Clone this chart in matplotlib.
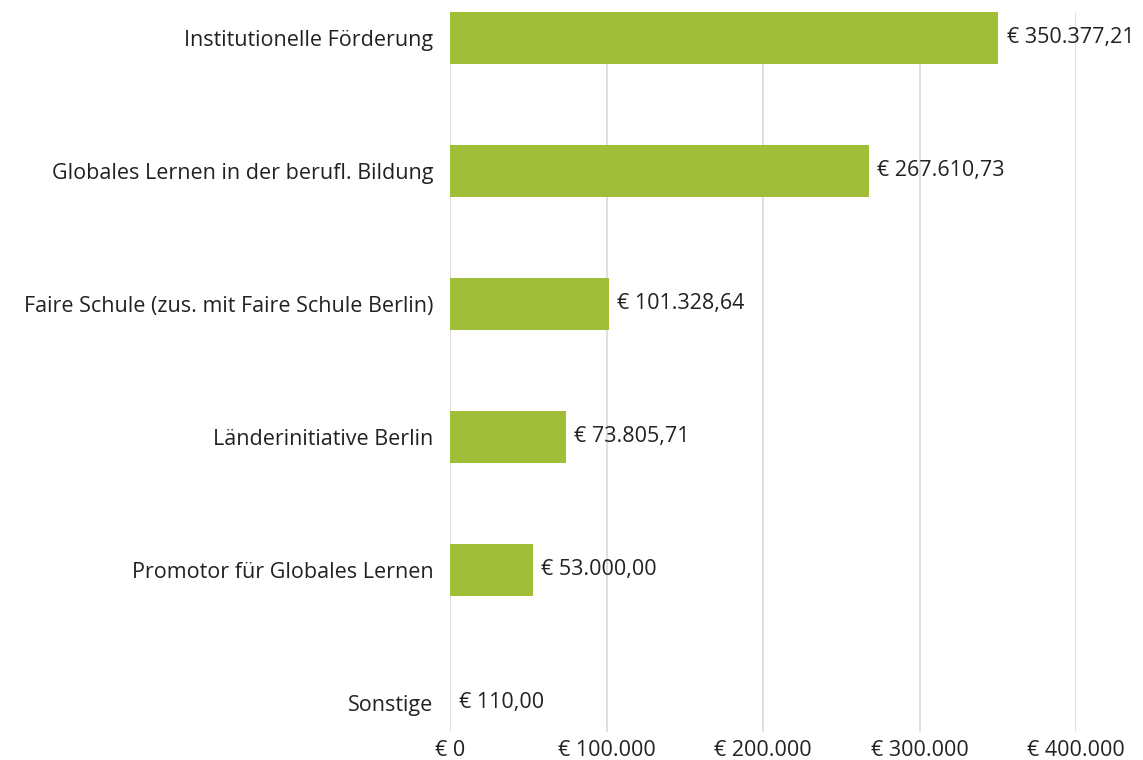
import matplotlib
matplotlib.use("Agg")
import matplotlib.pyplot as plt

categories = [
    "Institutionelle Förderung",
    "Globales Lernen in der berufl. Bildung",
    "Faire Schule (zus. mit Faire Schule Berlin)",
    "Länderinitiative Berlin",
    "Promotor für Globales Lernen",
    "Sonstige",
]
values = [350377.21, 267610.73, 101328.64, 73805.71, 53000.00, 110.00]
value_labels = ["€ 350.377,21", "€ 267.610,73", "€ 101.328,64",
                "€ 73.805,71", "€ 53.000,00", "€ 110,00"]
xticks = [0, 100000, 200000, 300000, 400000]
xtick_labels = ["€ 0", "€ 100.000", "€ 200.000", "€ 300.000", "€ 400.000"]

green = "#a0be38"
text_c = "#222222"
fs = 15.5
plt.rcParams["font.family"] = ["Open Sans", "DejaVu Sans"]

fig = plt.figure(figsize=(11.43, 7.6), dpi=100)
ax = fig.add_axes([450 / 1143, 1 - 732 / 760, (1076 - 450) / 1143, 720 / 760])

ypos = list(range(len(categories)))
ax.barh(ypos, values, height=0.39, color=green, zorder=2)

for y, v, lab in zip(ypos, values, value_labels):
    ax.annotate(lab, (v, y), xytext=(6, 0), textcoords="offset points",
                va="center", ha="left", fontsize=fs, color=text_c)

ax.set_xlim(0, 400000)
ax.set_ylim(5.22, -0.195)
ax.set_yticks(ypos)
ax.set_yticklabels(categories, fontsize=fs, color=text_c)
ax.set_xticks(xticks)
ax.set_xticklabels(xtick_labels, fontsize=fs, color=text_c)
ax.tick_params(axis="both", length=0)
ax.tick_params(axis="y", pad=12)
ax.tick_params(axis="x", pad=6)
ax.grid(axis="x", color="#d9d9d9", lw=1.2, zorder=0)
for s in ax.spines.values():
    s.set_visible(False)

fig.savefig("out.png", dpi=100)
